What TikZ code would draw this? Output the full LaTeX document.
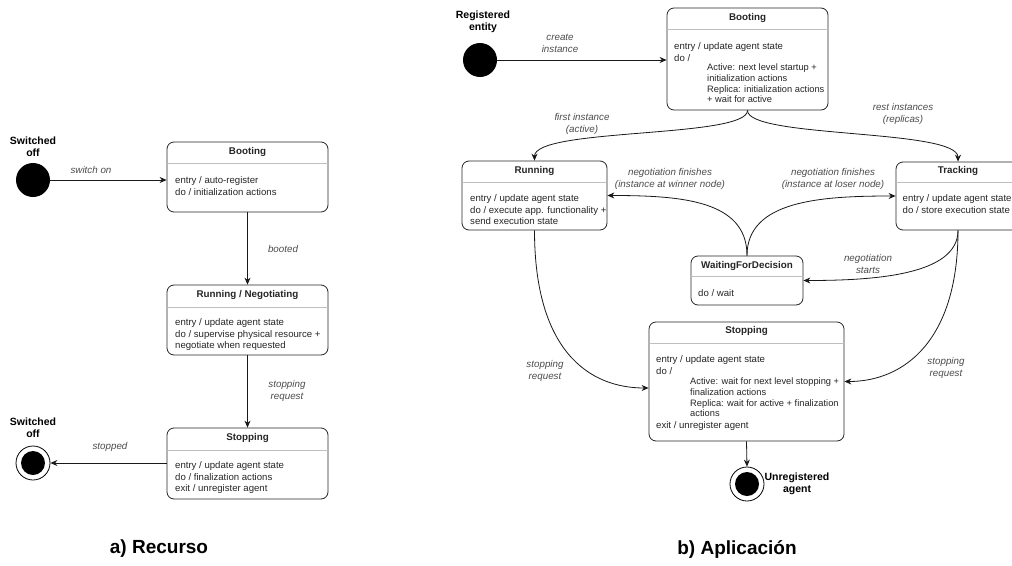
\documentclass[tikz,border=0pt]{standalone}
\usepackage{fontspec}
\setmainfont{Liberation Sans}
\usetikzlibrary{arrows.meta}
\begin{document}
\begin{tikzpicture}[x=1pt,y=-1pt]
			\tikzstyle{every node}+=[inner sep=0pt]
			\tikzstyle{statebox}=[rectangle,draw=black!85,line width=0.8pt,rounded corners=7pt]
			\tikzstyle{stitle}=[font=\fontsize{9.8}{12}\selectfont\bfseries,text=black!85]
			\tikzstyle{sbody}=[font=\fontsize{9.6}{11.5}\selectfont,text=black!85,align=left,anchor=north west]
			\tikzstyle{elabel}=[font=\fontsize{9.8}{12}\selectfont\itshape,text=black!70,align=center]
			\tikzstyle{sepline}=[draw=black!25,line width=1pt]
			\tikzstyle{trans}=[draw=black!90,line width=0.8pt,-{Stealth[length=7pt,width=6pt]}]
			\tikzstyle{initst}=[circle,fill=black,minimum size=34pt]
			\tikzstyle{endst}=[circle,draw=black,line width=0.8pt,minimum size=34pt]
			\tikzstyle{plabel}=[font=\fontsize{10.5}{12}\selectfont\bfseries,align=center]
			\tikzstyle{caption}=[font=\fontsize{19}{22}\selectfont\bfseries]
			\fill[white] (0,0) rectangle (1012,565);
			\useasboundingbox (0,0) rectangle (1012,565);
			% a) Recurso
			\node[initst] (loff) at (33,180) {};
			\node[plabel] at (33,147) {Switched\\off};
			\node[statebox,minimum width=161pt,minimum height=70pt] (lboot) at (247.5,177) {};
			\node[stitle] at (247.5,152) {Booting};
			\draw[sepline] (167,163) -- (328,163);
			\node[sbody] at (175,176.5) {entry / auto-register\\do / initialization actions};
			\node[statebox,minimum width=161pt,minimum height=70pt] (lrun) at (247.5,320) {};
			\node[stitle] at (247.5,295) {Running / Negotiating};
			\draw[sepline] (167,307) -- (328,307);
			\node[sbody] at (175,318.5) {entry / update agent state\\do / supervise physical resource +\\negotiate when requested};
			\node[statebox,minimum width=161pt,minimum height=71pt] (lstop) at (247.5,463.5) {};
			\node[stitle] at (247.5,438) {Stopping};
			\draw[sepline] (167,450) -- (328,450);
			\node[sbody] at (175,461.5) {entry / update agent state\\do / finalization actions\\exit / unregister agent};
			\node[endst] (lend) at (33,463) {};
			\fill (lend.center) circle (12);
			\node[plabel] at (33,428) {Switched\\off};
			\draw[trans] (loff.east) -- (lboot.west |- loff.east);
			\node[elabel] at (91,170) {switch on};
			\draw[trans] (lboot) -- (lrun);
			\node[elabel] at (283,249) {booted};
			\draw[trans] (lrun) -- (lstop);
			\node[elabel] at (287,391) {stopping\\request};
			\draw[trans] (lstop.west |- lend.east) -- (lend.east);
			\node[elabel] at (110,447) {stopped};
			\node[caption] at (159,549) {a) Recurso};
			% b) Aplicacion
			\node[initst] (rinit) at (480,60) {};
			\node[plabel] at (483,22) {Registered\\entity};
			\node[statebox,minimum width=161pt,minimum height=102pt] (rboot) at (747.5,59) {};
			\node[stitle] at (747.5,18) {Booting};
			\draw[sepline] (667,29) -- (828,29);
			\node[sbody] at (674,42.5) {entry / update agent state\\do /};
			\node[sbody,font=\fontsize{9.3}{10.8}\selectfont] at (707,63.5) {Active: next level startup +\\initialization actions\\Replica: initialization actions\\+ wait for active};
			\node[statebox,minimum width=145pt,minimum height=69pt] (rrun) at (534.5,195.5) {};
			\node[stitle] at (534.5,171) {Running};
			\draw[sepline] (462,182) -- (607,182);
			\node[sbody] at (470,194.5) {entry / update agent state\\do / execute app. functionality +\\send execution state};
			\node[statebox,minimum width=124pt,minimum height=68pt] (rtrack) at (958,196) {};
			\node[stitle] at (958,171) {Tracking};
			\draw[sepline] (896,182) -- (1020,182);
			\node[sbody] at (902.5,194.5) {entry / update agent state\\do / store execution state};
			\node[statebox,minimum width=112pt,minimum height=49pt] (rwait) at (747,280.5) {};
			\node[stitle] at (747,265.5) {WaitingForDecision};
			\draw[sepline] (691,276) -- (803,276);
			\node[sbody] at (698,289.5) {do / wait};
			\node[statebox,minimum width=195pt,minimum height=119pt] (rstop) at (746.5,381.5) {};
			\node[stitle] at (746.5,331) {Stopping};
			\draw[sepline] (649,343) -- (844,343);
			\node[sbody] at (656,355.5) {entry / update agent state\\do /};
			\node[sbody,font=\fontsize{9.3}{10.8}\selectfont] at (690,377.5) {Active: wait for next level stopping +\\finalization actions\\Replica: wait for active + finalization\\actions};
			\node[sbody] at (656,421.5) {exit / unregister agent};
			\node[endst] (rend) at (747,484) {};
			\fill (rend.center) circle (12);
			\node[plabel] at (797,484) {Unregistered\\agent};
			\draw[trans] (rinit.east) -- (rboot.west |- rinit.east);
			\node[elabel] at (560,43.5) {create\\instance};
			\draw[trans] (rboot.south) .. controls +(0,28) and +(0,-33) .. (rrun.north);
			\node[elabel] at (582,124) {first instance\\(active)};
			\draw[trans] (rboot.south) .. controls +(0,28) and +(0,-33) .. (rtrack.north);
			\node[elabel] at (903,114) {rest instances\\(replicas)};
			\draw[trans] (rwait.north) .. controls +(0,-55) and +(75,0) .. (rrun.east);
			\node[elabel] at (670,179) {negotiation finishes\\(instance at winner node)};
			\draw[trans] (rwait.north) .. controls +(0,-55) and +(-75,0) .. (rtrack.west);
			\node[elabel] at (833,179) {negotiation finishes\\(instance at loser node)};
			\draw[trans] (rtrack.south) .. controls +(0,45) and +(70,0) .. (rwait.east);
			\node[elabel] at (868,264) {negotiation\\starts};
			\draw[trans] (rrun.south) .. controls +(0,120) and +(-60,0) .. ([yshift=-6.5pt]rstop.west);
			\node[elabel] at (545,371) {stopping\\request};
			\draw[trans] (rtrack.south) .. controls +(0,110) and +(60,0) .. (rstop.east);
			\node[elabel] at (946,368) {stopping\\request};
			\draw[trans] (rstop.south) -- (rend.north);
			\node[caption] at (737,549) {b) Aplicación};
		\end{tikzpicture}
\end{document}
